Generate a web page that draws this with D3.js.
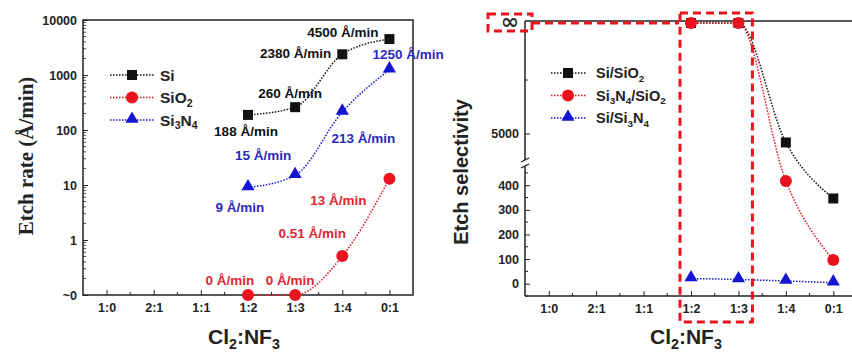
<!DOCTYPE html>
<html>
<head>
<meta charset="utf-8">
<script src="https://cdn.jsdelivr.net/npm/d3@7"></script>
<style>
  body { margin: 0; background: #fff; }
  text { font-family: "Liberation Sans", Arial, sans-serif; font-weight: bold; }
</style>
</head>
<body>
<script>
// categories and values
const ratios = ['1:0', '2:1', '1:1', '1:2', '1:3', '1:4', '0:1'];
const measured = ['1:2', '1:3', '1:4', '0:1'];

const siRate = [188, 260, 2380, 4500];
const sio2Rate = [0, 0, 0.51, 13];
const si3n4Rate = [9, 15, 213, 1250];

const siText = ['188 Å/min', '260 Å/min', '2380 Å/min', '4500 Å/min'];
const sio2Text = ['0 Å/min', '0 Å/min', '0.51 Å/min', '13 Å/min'];
const si3n4Text = ['9 Å/min', '15 Å/min', '213 Å/min', '1250 Å/min'];

const rateTicks = [0.1, 1, 10, 100, 1000, 10000];

const siSio2Sel = [Infinity, Infinity, 4667, 346];
const si3n4Sio2Sel = [Infinity, Infinity, 417, 96];
const siSi3n4Sel = [21, 17, 11, 4];

const lowSelTicks = [0, 100, 200, 300, 400];
const highSelTicks = [5000];

const width = 852,
      height = 354;

const black = '#111',
      red = '#e8131c',
      blue = '#1414d2',
      redText = '#e0262e',
      blueText = '#2a2ac0';

const svg = d3.select('body')
              .append('svg')
              .attr('width', width)
              .attr('height', height);

// writes "SiO2" style names with subscript digits
function chem(textSel, str, size) {
  const parts = str.split(/(\d)/).filter(p => p !== '');
  let low = false;
  parts.forEach(p => {
    const isNum = /^\d$/.test(p);
    const t = textSel.append('tspan').text(p);
    if (isNum) {
      t.attr('font-size', size * 0.68).attr('dy', low ? 0 : size * 0.25);
      low = true;
    } else {
      t.attr('dy', low ? -size * 0.25 : 0);
      low = false;
    }
  });
}

function marker(g, shape, x, y, color) {
  if (shape === 'square') {
    g.append('rect').attr('x', x - 5).attr('y', y - 5)
     .attr('width', 10).attr('height', 10).attr('fill', color);
  } else if (shape === 'circle') {
    g.append('circle').attr('cx', x).attr('cy', y).attr('r', 6).attr('fill', color);
  } else {
    g.append('path')
     .attr('d', d3.symbol().type(d3.symbolTriangle).size(75)())
     .attr('transform', 'translate(' + x + ',' + (y - 1) + ')')
     .attr('fill', color);
  }
}

/* ---------------- left panel: etch rate ---------------- */
const left = { x0: 83, x1: 413, y0: 20, y1: 295 };

const xLeft = d3.scalePoint().domain(ratios).range([left.x0, left.x1]).padding(0.5),
      yLeft = d3.scaleLog().domain([0.1, 10000]).range([left.y1, left.y0]);

const rateY = v => yLeft(Math.max(v, 0.1));

svg.append('rect')
   .attr('x', left.x0).attr('y', left.y0)
   .attr('width', left.x1 - left.x0).attr('height', left.y1 - left.y0)
   .attr('fill', 'none').attr('stroke', '#222').attr('stroke-width', 1.5);

const xAxisL = svg.append('g')
   .attr('transform', 'translate(0,' + left.y1 + ')')
   .call(d3.axisBottom(xLeft).tickSize(-5).tickSizeOuter(0).tickPadding(8));

const yAxisL = svg.append('g')
   .attr('transform', 'translate(' + left.x0 + ',0)')
   .call(d3.axisLeft(yLeft).tickValues(rateTicks).tickSize(-5).tickSizeOuter(0).tickPadding(6)
           .tickFormat(d => d === 0.1 ? '~0' : d3.format('d')(d)));

[xAxisL, yAxisL].forEach(a => {
  a.select('.domain').remove();
  a.selectAll('text').attr('font-size', 12.5).attr('fill', '#222');
  a.selectAll('line').attr('stroke', '#222');
});

// minor ticks
const stepL = xLeft.step();
ratios.slice(0, -1).forEach(r => {
  svg.append('line')
     .attr('x1', xLeft(r) + stepL / 2).attr('x2', xLeft(r) + stepL / 2)
     .attr('y1', left.y1).attr('y2', left.y1 - 3)
     .attr('stroke', '#222');
});
rateTicks.slice(0, -1).forEach(dec => {
  d3.range(2, 10).forEach(m => {
    svg.append('line')
       .attr('x1', left.x0).attr('x2', left.x0 + 3)
       .attr('y1', yLeft(dec * m)).attr('y2', yLeft(dec * m))
       .attr('stroke', '#222').attr('stroke-width', 0.8);
  });
});

const leftSeries = [
  { vals: siRate, text: siText, color: black, textColor: black, shape: 'square',
    off: [[-2, 21, 'middle'], [-5, -9, 'middle'], [-11, 4, 'end'], [-11, -2, 'end']] },
  { vals: sio2Rate, text: sio2Text, color: red, textColor: redText, shape: 'circle',
    off: [[-18, -10, 'middle'], [-5, -10, 'middle'], [-30, -18, 'middle'], [-51, 26, 'middle']] },
  { vals: si3n4Rate, text: si3n4Text, color: blue, textColor: blueText, shape: 'triangle',
    off: [[-8, 24, 'middle'], [-32, -15, 'middle'], [21, 31, 'middle'], [-17, -11, 'start']] }
];

const lineL = d3.line().curve(d3.curveMonotoneX);

leftSeries.forEach(s => {
  const pts = measured.map((r, i) => [xLeft(r), rateY(s.vals[i])]);
  svg.append('path')
     .attr('d', lineL(pts))
     .attr('fill', 'none').attr('stroke', s.color)
     .attr('stroke-width', 1.5).attr('stroke-dasharray', '1.5,1.5');
});

leftSeries.forEach(s => {
  measured.forEach((r, i) => {
    marker(svg, s.shape, xLeft(r), rateY(s.vals[i]), s.color);
  });
  measured.forEach((r, i) => {
    svg.append('text')
       .attr('x', xLeft(r) + s.off[i][0])
       .attr('y', rateY(s.vals[i]) + s.off[i][1])
       .attr('text-anchor', s.off[i][2])
       .attr('font-size', 13.5)
       .attr('fill', s.textColor)
       .text(s.text[i]);
  });
});

// legend
const legendL = [['Si', black, 'square'], ['SiO2', red, 'circle'], ['Si3N4', blue, 'triangle']];
legendL.forEach((d, i) => {
  const y = 75 + i * 22.5;
  svg.append('line').attr('x1', 110).attr('x2', 155).attr('y1', y).attr('y2', y)
     .attr('stroke', d[1]).attr('stroke-width', 1.5).attr('stroke-dasharray', '1.5,1.5');
  marker(svg, d[2], 132, y, d[1]);
  chem(svg.append('text').attr('x', 160).attr('y', y + 5.5).attr('font-size', 15.5).attr('fill', '#222'),
       d[0], 15.5);
});

svg.append('text')
   .attr('transform', 'translate(33,156) rotate(-90)')
   .attr('text-anchor', 'middle')
   .attr('font-size', 21)
   .style('font-family', '"Liberation Serif", "Times New Roman", serif')
   .attr('fill', '#222')
   .text('Etch rate (Å/min)');

chem(svg.append('text').attr('x', 208).attr('y', 344).attr('font-size', 21).attr('fill', '#222'),
     'Cl2:NF3', 21);

/* ---------------- right panel: selectivity ---------------- */
const right = { x0: 525, x1: 857, y0: 21, y1: 296, brk: 163 };

const xRight = d3.scalePoint().domain(ratios).range([right.x0, right.x1]).padding(0.5),
      yLow = d3.scaleLinear().domain([-50, 482]).range([right.y1, right.brk + 2]),
      yHigh = d3.scaleLinear().domain([3900, 9130]).range([right.brk, right.y0 + 2]);

const selY = v => v === Infinity ? yHigh.range()[1] : (v > 482 ? yHigh(v) : yLow(v));

// frame lines
svg.append('line').attr('x1', right.x0).attr('x2', width).attr('y1', right.y0).attr('y2', right.y0)
   .attr('stroke', '#222').attr('stroke-width', 1.5);
svg.append('line').attr('x1', right.x0).attr('x2', width).attr('y1', right.y1).attr('y2', right.y1)
   .attr('stroke', '#222').attr('stroke-width', 1.5);
svg.append('line').attr('x1', right.x0).attr('x2', right.x0).attr('y1', right.y1).attr('y2', right.brk + 3)
   .attr('stroke', '#222').attr('stroke-width', 1.5);
svg.append('line').attr('x1', right.x0).attr('x2', right.x0).attr('y1', right.brk - 3).attr('y2', right.y0)
   .attr('stroke', '#222').attr('stroke-width', 1.5);
[-3, 3].forEach(dy => {
  svg.append('line')
     .attr('x1', right.x0 - 4).attr('x2', right.x0 + 4)
     .attr('y1', right.brk + dy + 2).attr('y2', right.brk + dy - 2)
     .attr('stroke', '#222').attr('stroke-width', 1.3);
});

const xAxisR = svg.append('g')
   .attr('transform', 'translate(0,' + right.y1 + ')')
   .call(d3.axisBottom(xRight).tickSize(-5).tickSizeOuter(0).tickPadding(8));
const yAxisRLow = svg.append('g')
   .attr('transform', 'translate(' + right.x0 + ',0)')
   .call(d3.axisLeft(yLow).tickValues(lowSelTicks).tickSize(-5).tickSizeOuter(0).tickPadding(6));
const yAxisRHigh = svg.append('g')
   .attr('transform', 'translate(' + right.x0 + ',0)')
   .call(d3.axisLeft(yHigh).tickValues(highSelTicks).tickSize(-5).tickSizeOuter(0).tickPadding(6)
           .tickFormat(d3.format('d')));

[xAxisR, yAxisRLow, yAxisRHigh].forEach(a => {
  a.select('.domain').remove();
  a.selectAll('text').attr('font-size', 12.5).attr('fill', '#222');
  a.selectAll('line').attr('stroke', '#222');
});

const stepR = xRight.step();
ratios.forEach(r => {
  svg.append('line')
     .attr('x1', xRight(r) + stepR / 2).attr('x2', xRight(r) + stepR / 2)
     .attr('y1', right.y1).attr('y2', right.y1 - 3)
     .attr('stroke', '#222');
});
[-50, 50, 150, 250, 350, 450].forEach(v => {
  svg.append('line').attr('x1', right.x0).attr('x2', right.x0 + 3)
     .attr('y1', yLow(v)).attr('y2', yLow(v)).attr('stroke', '#222');
});
[7000].forEach(v => {
  svg.append('line').attr('x1', right.x0).attr('x2', right.x0 + 3)
     .attr('y1', yHigh(v)).attr('y2', yHigh(v)).attr('stroke', '#222');
});

svg.append('text')
   .attr('x', 510).attr('y', 29)
   .attr('text-anchor', 'middle')
   .attr('font-size', 22)
   .style('font-family', '"DejaVu Sans", sans-serif')
   .attr('fill', '#333')
   .text('∞');

const rightSeries = [
  { vals: siSio2Sel, color: black, shape: 'square' },
  { vals: si3n4Sio2Sel, color: red, shape: 'circle' },
  { vals: siSi3n4Sel, color: blue, shape: 'triangle' }
];

rightSeries.forEach(s => {
  const pts = measured.map((r, i) => [xRight(r), selY(s.vals[i])]);
  svg.append('path')
     .attr('d', lineL(pts))
     .attr('fill', 'none').attr('stroke', s.color)
     .attr('stroke-width', 1.5).attr('stroke-dasharray', '1.5,1.5');
});
rightSeries.forEach(s => {
  measured.forEach((r, i) => marker(svg, s.shape, xRight(r), selY(s.vals[i]), s.color));
});

const legendR = [['Si/SiO2', black, 'square'], ['Si3N4/SiO2', red, 'circle'], ['Si/Si3N4', blue, 'triangle']];
legendR.forEach((d, i) => {
  const y = 73 + i * 22.5;
  svg.append('line').attr('x1', 551).attr('x2', 586).attr('y1', y).attr('y2', y)
     .attr('stroke', d[1]).attr('stroke-width', 1.5).attr('stroke-dasharray', '1.5,1.5');
  marker(svg, d[2], 568, y, d[1]);
  chem(svg.append('text').attr('x', 596).attr('y', y + 5).attr('font-size', 14.5).attr('fill', '#222'),
       d[0], 14.5);
});

// red dashed highlights
const dash = { stroke: red, 'stroke-width': 3, 'stroke-dasharray': '8,5', fill: 'none' };
const hiliteA = svg.append('rect').attr('x', 488).attr('y', 14).attr('width', 44).attr('height', 17);
const hiliteB = svg.append('line').attr('x1', 532).attr('x2', 679).attr('y1', 23).attr('y2', 23);
const hiliteC = svg.append('rect')
   .attr('x', xRight('1:2') - 11).attr('y', 13)
   .attr('width', xRight('1:3') - xRight('1:2') + 25).attr('height', 309);
[hiliteA, hiliteB, hiliteC].forEach(h => Object.entries(dash).forEach(([k, v]) => h.attr(k, v)));

svg.append('text')
   .attr('transform', 'translate(468,172) rotate(-90)')
   .attr('text-anchor', 'middle')
   .attr('font-size', 20)
   .attr('fill', '#222')
   .text('Etch selectivity');

chem(svg.append('text').attr('x', 650).attr('y', 344).attr('font-size', 21).attr('fill', '#222'),
     'Cl2:NF3', 21);
</script>
</body>
</html>
